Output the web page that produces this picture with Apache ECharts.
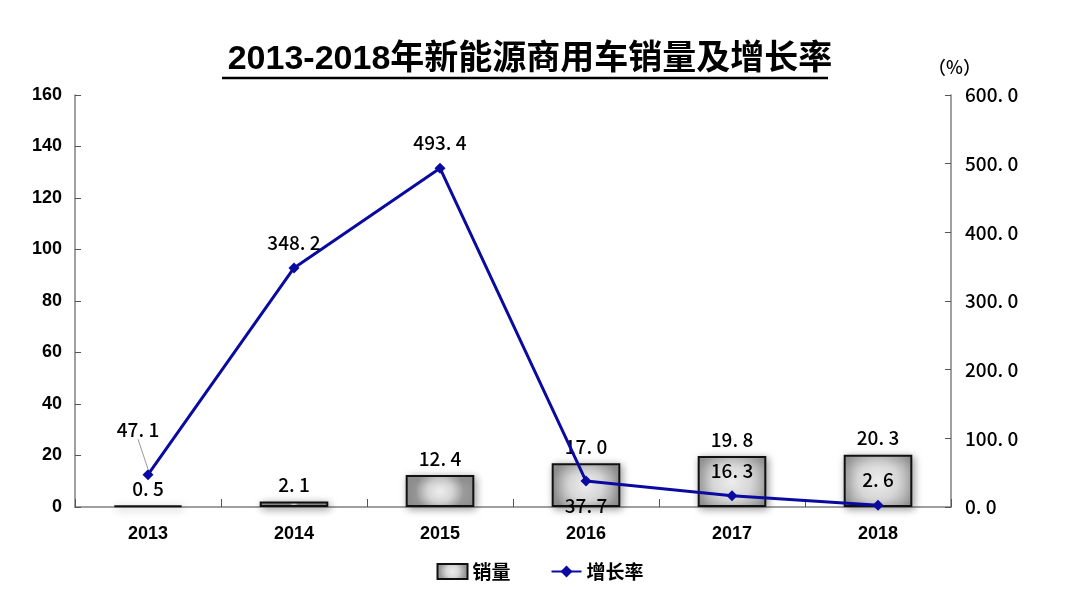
<!DOCTYPE html>
<html><head><meta charset="utf-8">
<script src="https://cdn.jsdelivr.net/npm/echarts@6/dist/echarts.min.js"></script>
<style>html,body{margin:0;padding:0;background:#fff}#c{width:1080px;height:602px}</style>
</head><body><div id="c"></div>
<script>
const titleText = '2013-2018年新能源商用车销量及增长率';
const categories = ['2013','2014','2015','2016','2017','2018'];
const sales = [0.5, 2.1, 12.4, 17.0, 19.8, 20.3];
const growth = [47.1, 348.2, 493.4, 37.7, 16.3, 2.6];
const leftTicks = [0, 160, 20];
const rightTicks = [0, 600, 100];

const numFont = '"Noto Sans CJK SC", sans-serif';
const chart = echarts.init(document.getElementById('c'));
const barColor = new echarts.graphic.RadialGradient(0.5, 0.5, 0.75, [
  {offset: 0, color: '#ededed'}, {offset: 0.5, color: '#d6d6d6'}, {offset: 1, color: '#9a9a9a'}
]);
const fmt1 = v => v.toFixed(1).replace('.', '. ');
const lineLabelPos = ['top','top','top','bottom','top','top'];
chart.setOption({
  animation: false,
  title: {
    text: titleText, left: 525, top: 38, textAlign: 'center',
    textStyle: {fontFamily: 'Arial, "Noto Sans CJK SC", sans-serif', fontSize: 34, fontWeight: 'bold', color: '#000'}
  },
  graphic: [
    {type: 'line', shape: {x1: 222, y1: 78, x2: 828, y2: 78}, style: {stroke: '#000', lineWidth: 2.5}},
    {type: 'text', left: 928, top: 58, style: {text: '（%）', font: '500 18px "Noto Sans CJK SC"', fill: '#000'}}
  ],
  legend: {
    bottom: 16, left: 'center', itemGap: 40, itemWidth: 30, itemHeight: 15,
    textStyle: {fontFamily: '"Noto Sans CJK SC", sans-serif', fontSize: 19, fontWeight: 'bold', color: '#000'},
    data: [{name: '销量', icon: 'rect'}, {name: '增长率'}]
  },
  grid: {left: 75, right: 129, top: 95, bottom: 95},
  xAxis: {
    type: 'category', data: categories,
    axisLine: {lineStyle: {color: '#808080', width: 1.5}},
    axisTick: {show: true, inside: true, length: 8, lineStyle: {color: '#555'}},
    axisLabel: {margin: 18, fontFamily: 'Arial', fontSize: 18, fontWeight: 'bold', color: '#000'}
  },
  yAxis: [
    {type: 'value', min: leftTicks[0], max: leftTicks[1], interval: leftTicks[2],
     axisLine: {show: true, lineStyle: {color: '#808080', width: 1.5}},
     axisTick: {show: true, inside: true, length: 6, lineStyle: {color: '#555'}},
     splitLine: {show: false},
     axisLabel: {margin: 13, fontFamily: 'Arial', fontSize: 18, fontWeight: 'bold', color: '#000'}},
    {type: 'value', min: rightTicks[0], max: rightTicks[1], interval: rightTicks[2], position: 'right',
     axisLine: {show: true, lineStyle: {color: '#808080', width: 1.5}},
     axisTick: {show: true, inside: true, length: 6, lineStyle: {color: '#555'}},
     splitLine: {show: false},
     axisLabel: {margin: 14, fontFamily: numFont, fontSize: 19, fontWeight: 500, color: '#000', formatter: v => fmt1(v)}}
  ],
  series: [
    {name: '销量', type: 'bar', data: sales, barWidth: '47%', yAxisIndex: 0,
     itemStyle: {color: barColor, borderColor: '#111', borderWidth: 2,
       shadowBlur: 8, shadowColor: 'rgba(0,0,0,0.4)', shadowOffsetX: 2, shadowOffsetY: 2},
     label: {show: true, position: 'top', distance: 7, fontFamily: numFont, fontSize: 19, fontWeight: 500, color: '#000',
       formatter: p => fmt1(p.value)}},
    {name: '增长率', type: 'line',
     data: growth.map((v, i) => i === 0 ? {value: v, label: {position: lineLabelPos[i]}}
       : {value: v, label: {position: lineLabelPos[i]}, labelLine: {show: false}}),
     yAxisIndex: 1, symbol: 'diamond', symbolSize: 11,
     lineStyle: {color: '#0a0aa0', width: 3}, itemStyle: {color: '#0a0aa0'},
     label: {show: true, distance: 10, fontFamily: numFont, fontSize: 19, fontWeight: 500, color: '#000',
       formatter: p => fmt1(p.value)},
     labelLayout: p => p.dataIndex === 0 ? {dx: -10, dy: -20} : {},
     labelLine: {show: true, lineStyle: {color: '#999', width: 1}}}
  ]
});
</script></body></html>
